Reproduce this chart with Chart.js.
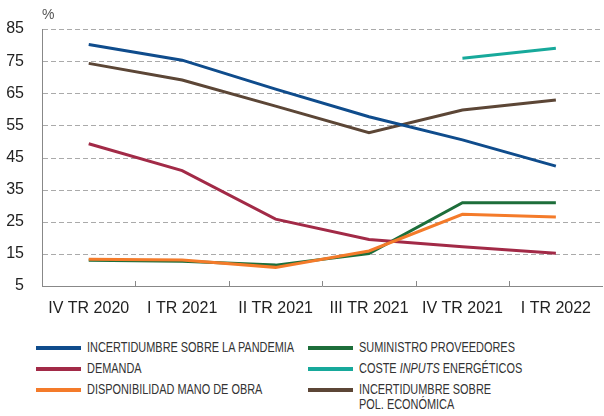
<!DOCTYPE html>
<html>
<head>
<meta charset="utf-8">
<script src="https://cdn.jsdelivr.net/npm/chart.js@4"></script>
<style>
    body { margin: 0; background: #fff; }
    #wrap { position: relative; width: 604px; height: 416px; overflow: hidden; font-family: "Liberation Sans", Arial, sans-serif; }
    #chartBox { position: absolute; left: 0; top: 0; width: 604px; height: 320px; }
    #unit { position: absolute; left: 42px; top: 6px; font-size: 14px; color: #555; }
    .leg { position: absolute; height: 15px; }
    .leg i { position: absolute; left: -51px; top: 6px; width: 45px; height: 4px; }
    .leg span { position: absolute; left: 0; top: 0; white-space: nowrap; font-size: 14px; color: #333; line-height: 15px; transform: scaleX(0.78); transform-origin: 0 0; }
</style>
</head>
<body>
<div id="wrap">
    <div id="chartBox"><canvas id="chart"></canvas></div>
    <div id="unit">%</div>
    <div id="legend"></div>
</div>
<script>
// Quarters on the x axis
const quarters = ['IV TR 2020', 'I TR 2021', 'II TR 2021', 'III TR 2021', 'IV TR 2021', 'I TR 2022'];
const yTicks = [5, 15, 25, 35, 45, 55, 65, 75, 85];

// Series values (%)
const pandemia = [80.2, 75.3, 66.3, 57.7, 50.5, 42.3];
const demanda = [49.3, 40.9, 25.8, 19.5, 17.2, 15.2];
const manoObra = [13.3, 13.1, 10.8, 15.9, 27.3, 26.5];
const suministro = [13.0, 12.7, 11.5, 15.1, 30.9, 30.9];
const energeticos = [null, null, null, null, 75.9, 79.0];
const polEconomica = [74.3, 69.1, 61.0, 52.7, 59.8, 62.9];

const series = [
    { label: 'INCERTIDUMBRE SOBRE LA PANDEMIA', data: pandemia, color: '#0f4c8c' },
    { label: 'DEMANDA', data: demanda, color: '#a22a47' },
    { label: 'DISPONIBILIDAD MANO DE OBRA', data: manoObra, color: '#f47b2a' },
    { label: 'SUMINISTRO PROVEEDORES', data: suministro, color: '#1d6e3a' },
    { label: 'COSTE <em>INPUTS</em> ENERGÉTICOS', data: energeticos, color: '#17a99b' },
    { label: 'INCERTIDUMBRE SOBRE<br>POL. ECONÓMICA', data: polEconomica, color: '#5c4636' }
];

// Draw order: bottom lines first
const drawOrder = [2, 1, 3, 0, 5, 4];

// dashed horizontal grid + small tick marks between categories pointing up
const gridAndTicks = {
    id: 'gridAndTicks',
    beforeDatasetsDraw(chart) {
        const y = chart.scales.y;
        const x = chart.scales.x;
        const ctx = chart.ctx;
        const { left, right, bottom } = chart.chartArea;
        ctx.save();
        ctx.strokeStyle = '#aaa';
        ctx.lineWidth = 1;
        ctx.setLineDash([5, 3]);
        yTicks.slice(1).forEach(v => {
            const py = Math.round(y.getPixelForValue(v)) + 0.5;
            ctx.beginPath();
            ctx.moveTo(left + 1, py);
            ctx.lineTo(right, py);
            ctx.stroke();
        });
        ctx.setLineDash([]);
        ctx.strokeStyle = '#888';
        for (let i = 1; i < quarters.length; i++) {
            const px = Math.round((x.getPixelForTick(i - 1) + x.getPixelForTick(i)) / 2) + 0.5;
            ctx.beginPath();
            ctx.moveTo(px, bottom);
            ctx.lineTo(px, bottom - 5);
            ctx.stroke();
        }
        ctx.restore();
    }
};

new Chart(document.getElementById('chart'), {
    type: 'line',
    data: {
        labels: quarters,
        datasets: drawOrder.map(i => ({
            label: series[i].label,
            data: series[i].data,
            borderColor: series[i].color,
            backgroundColor: series[i].color,
            borderWidth: 3,
            pointRadius: 0,
            tension: 0,
            spanGaps: false
        }))
    },
    options: {
        responsive: true,
        maintainAspectRatio: false,
        animation: false,
        layout: { padding: { top: 29, right: 0, left: 0, bottom: 0 } },
        plugins: {
            legend: { display: false },
            tooltip: { enabled: false }
        },
        scales: {
            x: {
                offset: true,
                afterFit: s => { s.height = 34; },
                grid: { display: false, drawTicks: false },
                border: { display: true, color: '#888', width: 1 },
                ticks: {
                    color: '#222',
                    font: { family: 'Liberation Sans', size: 16 },
                    padding: 13,
                    maxRotation: 0,
                    autoSkip: false
                }
            },
            y: {
                min: 5,
                max: 85,
                afterFit: s => { s.width = 42; },
                afterBuildTicks: s => { s.ticks = yTicks.map(v => ({ value: v })); },
                grid: { drawOnChartArea: false, drawTicks: false },
                border: { display: true, color: '#888', width: 1 },
                ticks: {
                    color: '#222',
                    font: { family: 'Liberation Sans', size: 16 },
                    padding: 18
                }
            }
        }
    },
    plugins: [gridAndTicks]
});

// HTML legend in two columns
const legendBox = document.getElementById('legend');
const legendPos = [
    [87, 340], [87, 361], [87, 382],
    [359, 340], [359, 361], [359, 382]
];
series.forEach((s, i) => {
    const d = document.createElement('div');
    d.className = 'leg';
    d.style.left = legendPos[i][0] + 'px';
    d.style.top = legendPos[i][1] + 'px';
    d.innerHTML = `<i style="background:${s.color}"></i><span>${s.label}</span>`;
    legendBox.appendChild(d);
});
</script>
</body>
</html>
